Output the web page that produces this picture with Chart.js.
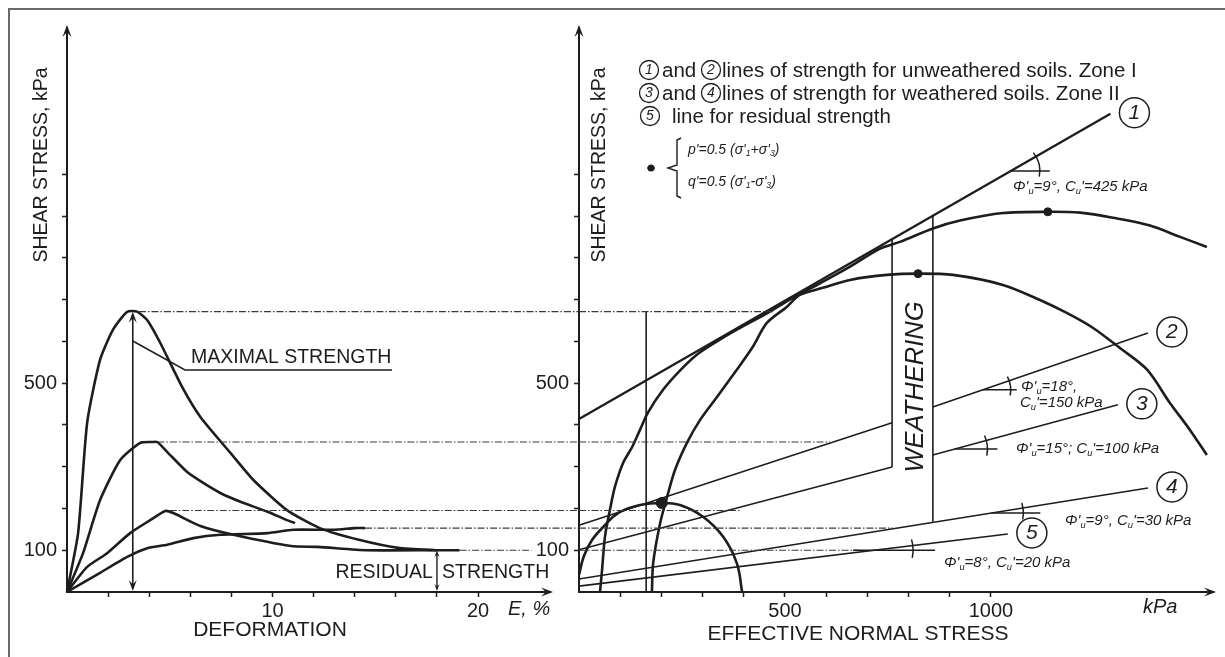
<!DOCTYPE html>
<html>
<head>
<meta charset="utf-8">
<script src="https://cdn.jsdelivr.net/npm/chart.js@4.4.1/dist/chart.umd.min.js"></script>
<style>
  html, body { margin: 0; padding: 0; background: #fff; }
  #page { position: relative; width: 1225px; height: 657px; overflow: hidden; }
  #frame { position: absolute; left: 8px; top: 8px; width: 1240px; height: 670px;
           border-left: 2px solid #6a6a6a; border-top: 2px solid #6a6a6a; }
  .box { position: absolute; left: 0; top: 0; width: 1225px; height: 657px; }
</style>
</head>
<body>
<div id="page">
  <div id="frame"></div>
  <div class="box"><canvas id="deformChart"></canvas></div>
  <div class="box"><canvas id="stressChart"></canvas></div>
</div>
<script>
// ---- axes ----
const strainTicks = [2, 4, 6, 8, 10, 12, 14, 16, 18, 20];
const strainTickLabels = ['10', '20'];
const shearTicks = [100, 200, 300, 400, 500, 600, 700, 800, 900, 1000];
const shearTickLabels = ['100', '500'];
const normalTicks = [100, 200, 300, 400, 500, 600, 700, 800, 900, 1000];
const normalTickLabels = ['500', '1000'];

// ---- left panel: shear stress (kPa) vs deformation E (%) ----
const curve1E = [0, 0.54, 0.98, 1.61, 2.24, 2.93, 3.41, 3.9, 4.54, 5.6, 6.49, 7.95, 9.07, 10.7, 12.3, 14.2, 16.2, 18, 19.1];
const curve1Tau = [0, 141, 405, 556, 628, 671, 671, 651, 596, 491, 419, 333, 268, 196, 153, 125, 105, 100, 100];
const curve2E = [0, 0.78, 1.61, 2.59, 3.56, 4.15, 4.39, 4.88, 5.85, 6.63, 7.46, 8.44, 9.76, 10.7, 11.1];
const curve2Tau = [0, 93, 220, 316, 357, 359, 359, 335, 287, 261, 237, 216, 192, 172, 165];
const curve3E = [0, 0.98, 1.95, 3.07, 4.05, 4.78, 5.17, 6.49, 8.1, 10.9, 12.2, 14.6, 18];
const curve3Tau = [0, 60, 93, 141, 172, 194, 189, 158, 137, 110, 108, 100, 100];
const curve4E = [0, 1.61, 2.93, 3.9, 4.88, 6.15, 7.46, 9.76, 11, 13, 14, 14.5];
const curve4Tau = [0, 46, 84, 105, 113, 129, 137, 141, 149, 149, 153, 153];

// strength levels carried across both panels
const peakTau = [671, 359, 195, 153, 100];
const peakStartE = [3.5, 4.4, 5.0, 14.5, 19.1];
const peakEndE = [24.9, 24.9, 24.9, 24.9, 22.6];
const peakEndP = [471, 609, 391, 762, 682];
const maxArrowE = 3.2;
const residualE = 18;

// ---- right panel: shear stress (kPa) vs effective normal stress (kPa) ----
const line1P = [0, 1290];
const line1Q = [414, 1145];
const line2P = [0, 760, 800, 859, 1381];
const line2Q = [160, 405, null, 443, 620];
const line3P = [0, 760, 800, 859, 1308];
const line3Q = [101, 299, null, 328, 448];
const line4P = [0, 1381];
const line4Q = [31, 249];
const line5P = [0, 1041];
const line5Q = [14, 139];

const pathUpperP = [51, 56, 63, 75, 87, 107, 129, 148, 167, 204, 245, 286, 335, 383, 456, 519, 585, 658, 731, 779, 859, 925, 1029, 1138, 1216, 1296, 1386, 1459, 1524];
const pathUpperQ = [0, 53, 132, 196, 251, 309, 347, 388, 429, 484, 530, 568, 600, 628, 667, 704, 739, 779, 822, 838, 870, 889, 907, 910, 908, 896, 877, 850, 826];
const pathLowerP = [177, 180, 197, 214, 233, 262, 294, 335, 383, 422, 456, 505, 536, 592, 658, 748, 823, 908, 1029, 1119, 1184, 1248, 1313, 1379, 1434, 1483, 1524];
const pathLowerQ = [0, 69, 165, 228, 292, 357, 412, 467, 532, 587, 644, 683, 711, 728, 747, 759, 762, 759, 735, 699, 668, 632, 584, 532, 453, 388, 328];
const mohrP = [0, 12, 32, 63, 95, 148, 201, 245, 301, 350, 383, 396];
const mohrQ = [41, 86, 125, 160, 189, 208, 213, 208, 180, 132, 69, 0];
const peakDotP = [823, 1138, 201];
const peakDotQ = [762, 910, 213];

const refP = 163;
const weatherP = [760, 859];
const weatherLow = [299, 168];
const weatherHigh = [846, 900];

const ink = '#1d1d1d';
const FONT = '"Liberation Sans", Arial, Helvetica, sans-serif';

Chart.defaults.font.family = FONT;
Chart.defaults.font.size = 20;
Chart.defaults.color = ink;

function pts(xs, ys) {
    return xs.map((x, i) => ({ x: x, y: ys[i] }));
}

const dash = { showLine: true, borderColor: '#3a3a3a', borderWidth: 1.1, borderDash: [7, 2, 1.5, 2], pointRadius: 0, clip: false };
const thick = { showLine: true, borderColor: ink, borderWidth: 2.6, pointRadius: 0, tension: 0.2, clip: false };
const thin = { showLine: true, borderColor: ink, borderWidth: 1.6, pointRadius: 0, tension: 0, clip: false };

function buildScales(xMax, xTicks, xLabels, yWidth) {
    return {
        x: {
            type: 'linear', min: 0, max: xMax,
            afterBuildTicks: s => { s.ticks = xTicks.map(v => ({ value: v })); },
            afterFit: s => { s.height = 65; },
            ticks: { autoSkip: false, maxRotation: 0, padding: 2, font: { size: 20 },
                     callback: v => xLabels.includes(String(v)) ? String(v) : '' },
            grid: { drawOnChartArea: false, tickLength: 5, tickWidth: 1.5, tickColor: ink },
            border: { color: ink, width: 2 }
        },
        y: {
            type: 'linear', min: 0, max: 1350,
            afterBuildTicks: s => { s.ticks = shearTicks.map(v => ({ value: v })); },
            afterFit: s => { s.width = yWidth; },
            ticks: { autoSkip: false, padding: 5, font: { size: 20 },
                     callback: v => shearTickLabels.includes(String(v)) ? String(v) : '' },
            grid: { drawOnChartArea: false, tickLength: 5, tickWidth: 1.5, tickColor: ink },
            border: { color: ink, width: 2 }
        }
    };
}

// ---- drawing helpers ----
function arrowHead(ctx, x, y, ang, len = 11, half = 4.5) {
    ctx.save();
    ctx.translate(x, y);
    ctx.rotate(ang);
    ctx.beginPath();
    ctx.moveTo(0, 0);
    ctx.lineTo(-len, -half);
    ctx.lineTo(-len * 0.6, 0);
    ctx.lineTo(-len, half);
    ctx.closePath();
    ctx.fill();
    ctx.restore();
}

function seg(ctx, x1, y1, x2, y2) {
    ctx.beginPath();
    ctx.moveTo(x1, y1);
    ctx.lineTo(x2, y2);
    ctx.stroke();
}

function text(ctx, str, x, y, size, align = 'left', italic = false) {
    ctx.font = (italic ? 'italic ' : '') + size + 'px ' + FONT;
    ctx.textAlign = align;
    ctx.textBaseline = 'middle';
    ctx.fillText(str, x, y);
}

function vText(ctx, str, x, y, size, italic = false) {
    ctx.save();
    ctx.translate(x, y);
    ctx.rotate(-Math.PI / 2);
    text(ctx, str, 0, 0, size, 'center', italic);
    ctx.restore();
}

// '_' puts the next character in subscript
function richText(ctx, str, x, y, size) {
    const runs = [];
    for (let i = 0; i < str.length; i++) {
        if (str[i] === '_') { runs.push({ t: str[i + 1], sub: true }); i++; }
        else if (runs.length && !runs[runs.length - 1].sub) runs[runs.length - 1].t += str[i];
        else runs.push({ t: str[i], sub: false });
    }
    let cx = x;
    ctx.textAlign = 'left';
    ctx.textBaseline = 'middle';
    runs.forEach(r => {
        const s = r.sub ? size * 0.62 : size;
        ctx.font = 'italic ' + s + 'px ' + FONT;
        ctx.fillText(r.t, cx, y + (r.sub ? size * 0.28 : 0));
        cx += ctx.measureText(r.t).width;
    });
}

function circled(ctx, x, y, r, n, size) {
    ctx.beginPath();
    ctx.arc(x, y, r, 0, Math.PI * 2);
    ctx.stroke();
    text(ctx, n, x, y + 0.5, size, 'center', true);
}

// ---- left panel notes ----
const deformNotes = {
    id: 'deformNotes',
    afterDatasetsDraw(chart) {
        const { ctx, chartArea: a, scales: { x, y } } = chart;
        ctx.save();
        ctx.fillStyle = ink;
        ctx.strokeStyle = ink;
        arrowHead(ctx, a.left, a.top - 3, -Math.PI / 2, 12, 4.5);
        arrowHead(ctx, a.right + 3, a.bottom, 0, 12, 4.5);

        vText(ctx, 'SHEAR STRESS, kPa', 42, 165, 19.5);
        text(ctx, 'DEFORMATION', 270, 630, 21, 'center');
        text(ctx, 'E, %', 508, 609, 20, 'left', true);

        // maximal strength double arrow and leader
        const ax = x.getPixelForValue(maxArrowE);
        const top = y.getPixelForValue(peakTau[0]);
        ctx.lineWidth = 1.6;
        seg(ctx, ax, top + 4, ax, a.bottom - 4);
        arrowHead(ctx, ax, top, -Math.PI / 2, 11, 4);
        arrowHead(ctx, ax, a.bottom - 1, Math.PI / 2, 11, 4);
        ctx.lineWidth = 1.5;
        ctx.beginPath();
        ctx.moveTo(ax, 341);
        ctx.lineTo(185, 370);
        ctx.lineTo(392, 370);
        ctx.stroke();
        text(ctx, 'MAXIMAL STRENGTH', 191, 358, 19.5);

        // residual strength arrow
        const rx = x.getPixelForValue(residualE);
        const rTop = y.getPixelForValue(peakTau[4]);
        ctx.lineWidth = 1.4;
        seg(ctx, rx, rTop + 3, rx, a.bottom - 3);
        arrowHead(ctx, rx, rTop, -Math.PI / 2, 7, 2.5);
        arrowHead(ctx, rx, a.bottom - 1, Math.PI / 2, 7, 2.5);
        text(ctx, 'RESIDUAL', rx - 4, 573, 19.5, 'right');
        text(ctx, 'STRENGTH', rx + 5, 573, 19.5, 'left');
        ctx.restore();
    }
};

// ---- right panel notes ----
const strengthLines = [[line1P, line1Q], [line2P, line2Q], [line3P, line3Q], [line4P, line4Q], [line5P, line5Q]];
const markers = [
    { q: 1008, len: 39, r: 29, back: 0, label: "Φ'_u=9°, C_u'=425 kPa", lx: 1013, ly: 187 },
    { q: 484, len: 34, r: 28, back: 0, label: "Φ'_u=18°,", lx: 1021, ly: 387, label2: "C_u'=150 kPa", lx2: 1020, ly2: 403 },
    { q: 342, len: 43, r: 33, back: 0, label: "Φ'_u=15°; C_u'=100 kPa", lx: 1016, ly: 449 },
    { q: 189, len: 49, r: 32, back: 0, label: "Φ'_u=9°, C_u'=30 kPa", lx: 1065, ly: 521 },
    { q: 100, len: 61, r: 39, back: 21, label: "Φ'_u=8°, C_u'=20 kPa", lx: 944, ly: 563 }
];
const lineNames = ['1', '2', '3', '4', '5'];

const stressNotes = {
    id: 'stressNotes',
    afterDatasetsDraw(chart) {
        const { ctx, chartArea: a, scales: { x, y } } = chart;
        ctx.save();
        ctx.fillStyle = ink;
        ctx.strokeStyle = ink;
        arrowHead(ctx, a.left, a.top - 3, -Math.PI / 2, 12, 4.5);
        arrowHead(ctx, a.right + 3, a.bottom, 0, 12, 4.5);

        vText(ctx, 'SHEAR STRESS, kPa', 600, 165, 19.5);
        text(ctx, 'EFFECTIVE NORMAL STRESS', 858, 634, 21, 'center');
        text(ctx, 'kPa', 1143, 607, 20, 'left', true);

        // legend
        ctx.lineWidth = 1.3;
        circled(ctx, 649, 70, 9.5, '1', 14);
        text(ctx, 'and', 662, 71, 20.5);
        circled(ctx, 711, 70, 9.5, '2', 14);
        text(ctx, 'lines of strength for unweathered soils. Zone I', 722, 71, 20.5);
        circled(ctx, 649, 93, 9.5, '3', 14);
        text(ctx, 'and', 662, 94, 20.5);
        circled(ctx, 711, 93, 9.5, '4', 14);
        text(ctx, 'lines of strength for weathered soils. Zone II', 722, 94, 20.5);
        circled(ctx, 650, 116, 9.5, '5', 14);
        text(ctx, 'line for residual strength', 672, 117, 20.5);

        // p', q' bracket
        ctx.beginPath();
        ctx.arc(651, 168, 3.5, 0, Math.PI * 2);
        ctx.fill();
        seg(ctx, 647, 168, 655, 168);
        ctx.lineWidth = 1.4;
        ctx.beginPath();
        ctx.moveTo(681, 138);
        ctx.lineTo(677, 140);
        ctx.lineTo(677, 165);
        ctx.lineTo(668, 168);
        ctx.lineTo(677, 171);
        ctx.lineTo(677, 196);
        ctx.lineTo(681, 198);
        ctx.stroke();
        richText(ctx, "p'=0.5 (σ'_1+σ'_3)", 688, 150, 14);
        richText(ctx, "q'=0.5 (σ'_1-σ'_3)", 688, 182, 14);

        // weathering zone label
        ctx.save();
        ctx.translate(916, 387);
        ctx.rotate(-Math.PI / 2);
        text(ctx, 'WEATHERING', 0, 0, 25.5, 'center', true);
        ctx.restore();

        // angle markers and labels
        ctx.lineWidth = 1.5;
        markers.forEach((m, i) => {
            const [P, Q] = strengthLines[i];
            const n = P.length;
            const p0 = P[n - 2], q0 = Q[n - 2], p1 = P[n - 1], q1 = Q[n - 1];
            const pv = p0 + (m.q - q0) * (p1 - p0) / (q1 - q0);
            const vx = x.getPixelForValue(pv), vy = y.getPixelForValue(m.q);
            const ang = Math.atan2(y.getPixelForValue(q1) - y.getPixelForValue(q0), x.getPixelForValue(p1) - x.getPixelForValue(p0));
            seg(ctx, vx - m.back, vy, vx + m.len, vy);
            ctx.beginPath();
            ctx.arc(vx, vy, m.r, ang - 0.16, 0.2);
            ctx.stroke();
            richText(ctx, m.label, m.lx, m.ly, 15);
            if (m.label2) richText(ctx, m.label2, m.lx2, m.ly2, 15);
            // circled line number at the end of the line
            circled(ctx, x.getPixelForValue(p1) + 24, y.getPixelForValue(q1) - 1, 15, lineNames[i], 21);
        });
        ctx.restore();
    }
};

const deformDatasets = [
    ...peakTau.map((t, i) => Object.assign({ data: [{ x: peakStartE[i], y: t }, { x: peakEndE[i], y: t }] }, dash)),
    Object.assign({ data: pts(curve1E, curve1Tau) }, thick),
    Object.assign({ data: pts(curve2E, curve2Tau) }, thick),
    Object.assign({ data: pts(curve3E, curve3Tau) }, thick),
    Object.assign({ data: pts(curve4E, curve4Tau) }, thick)
];

const stressDatasets = [
    ...peakTau.map((t, i) => Object.assign({ data: [{ x: 0, y: t }, { x: peakEndP[i], y: t }] }, dash)),
    Object.assign({}, thin, { data: pts(line1P, line1Q), borderWidth: 2.3 }),
    Object.assign({}, thin, { data: pts(line2P, line2Q), spanGaps: false }),
    Object.assign({}, thin, { data: pts(line3P, line3Q), spanGaps: false }),
    Object.assign({}, thin, { data: pts(line4P, line4Q) }),
    Object.assign({}, thin, { data: pts(line5P, line5Q) }),
    Object.assign({}, thin, { data: [{ x: refP, y: 0 }, { x: refP, y: peakTau[0] }] }),
    Object.assign({}, thin, { data: [{ x: weatherP[0], y: weatherLow[0] }, { x: weatherP[0], y: weatherHigh[0] }] }),
    Object.assign({}, thin, { data: [{ x: weatherP[1], y: weatherLow[1] }, { x: weatherP[1], y: weatherHigh[1] }] }),
    Object.assign({}, thick, { data: pts(pathUpperP, pathUpperQ), tension: 0.3 }),
    Object.assign({}, thick, { data: pts(pathLowerP, pathLowerQ), tension: 0.3 }),
    Object.assign({}, thick, { data: pts(mohrP, mohrQ), tension: 0.4 }),
    { data: pts(peakDotP, peakDotQ), showLine: false, pointRadius: [4, 4, 5.5], pointBackgroundColor: ink, pointBorderColor: ink, clip: false }
];

const commonOptions = {
    responsive: true,
    maintainAspectRatio: false,
    animation: false,
    events: [],
    plugins: { legend: { display: false }, tooltip: { enabled: false } }
};

new Chart(document.getElementById('deformChart'), {
    type: 'scatter',
    data: { datasets: deformDatasets },
    options: Object.assign({}, commonOptions, {
        layout: { padding: { left: 0, top: 28, right: 675, bottom: 0 } },
        scales: buildScales(23.5, strainTicks, strainTickLabels, 67)
    }),
    plugins: [deformNotes]
});

new Chart(document.getElementById('stressChart'), {
    type: 'scatter',
    data: { datasets: stressDatasets },
    options: Object.assign({}, commonOptions, {
        layout: { padding: { left: 500, top: 28, right: 12, bottom: 0 } },
        scales: buildScales(1539, normalTicks, normalTickLabels, 79)
    }),
    plugins: [stressNotes]
});
</script>
</body>
</html>
